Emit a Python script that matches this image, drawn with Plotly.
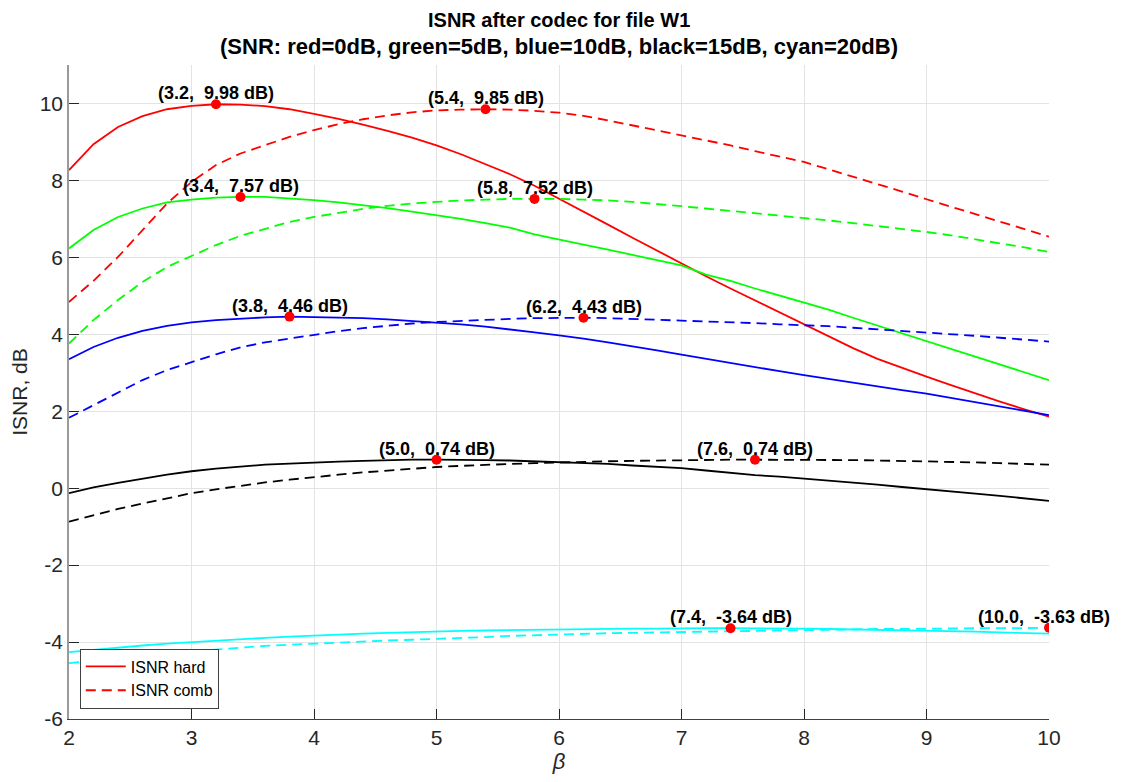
import plotly.graph_objects as go

beta = [round(2.0 + 0.2 * i, 1) for i in range(41)]

hard_0 = [8.27, 8.94, 9.39, 9.67, 9.85, 9.94, 9.98, 9.97, 9.93, 9.85, 9.73, 9.60, 9.45, 9.29, 9.11, 8.91,
          8.68, 8.43, 8.16, 7.86, 7.53, 7.19, 6.85, 6.51, 6.17, 5.84, 5.51, 5.19, 4.88, 4.58, 4.28,
          3.95, 3.64, 3.36, 3.12, 2.90, 2.68, 2.46, 2.25, 2.05, 1.86]
comb_0 = [4.84, 5.39, 6.01, 6.71, 7.40, 7.96, 8.40, 8.70, 8.92, 9.13, 9.31, 9.46, 9.59, 9.69, 9.77, 9.82,
          9.84, 9.85, 9.84, 9.81, 9.76, 9.68, 9.56, 9.43, 9.30, 9.17, 9.04, 8.91, 8.76, 8.62, 8.48,
          8.29, 8.10, 7.91, 7.71, 7.51, 7.32, 7.12, 6.93, 6.73, 6.54]
hard_5 = [6.23, 6.71, 7.05, 7.27, 7.43, 7.50, 7.55, 7.57, 7.57, 7.53, 7.49, 7.43, 7.36, 7.28, 7.19, 7.10,
          7.00, 6.89, 6.77, 6.60, 6.46, 6.33, 6.20, 6.06, 5.93, 5.79, 5.55, 5.39, 5.19, 5.01, 4.83,
          4.64, 4.43, 4.23, 4.03, 3.83, 3.63, 3.42, 3.22, 3.01, 2.81]
comb_5 = [3.76, 4.37, 4.89, 5.36, 5.75, 6.04, 6.32, 6.56, 6.75, 6.92, 7.05, 7.16, 7.26, 7.34, 7.40, 7.44,
          7.48, 7.50, 7.52, 7.52, 7.52, 7.50, 7.48, 7.44, 7.39, 7.33, 7.27, 7.21, 7.15, 7.09, 7.03,
          6.96, 6.89, 6.82, 6.74, 6.66, 6.57, 6.47, 6.37, 6.26, 6.14]
hard_10 = [3.35, 3.67, 3.91, 4.09, 4.22, 4.31, 4.37, 4.41, 4.44, 4.46, 4.45, 4.44, 4.42, 4.39, 4.35, 4.31,
           4.26, 4.20, 4.13, 4.05, 3.97, 3.89, 3.79, 3.69, 3.58, 3.47, 3.36, 3.25, 3.14, 3.04, 2.94,
           2.84, 2.74, 2.64, 2.55, 2.46, 2.35, 2.24, 2.12, 2.01, 1.90]
comb_10 = [1.83, 2.16, 2.50, 2.81, 3.07, 3.28, 3.48, 3.66, 3.79, 3.89, 3.99, 4.08, 4.16, 4.22, 4.28, 4.32,
           4.35, 4.38, 4.40, 4.42, 4.43, 4.43, 4.42, 4.40, 4.38, 4.36, 4.34, 4.31, 4.29, 4.26, 4.24,
           4.21, 4.17, 4.13, 4.09, 4.05, 4.01, 3.96, 3.91, 3.86, 3.81]
hard_15 = [-0.13, 0.02, 0.14, 0.25, 0.35, 0.44, 0.51, 0.56, 0.61, 0.64, 0.67, 0.69, 0.71, 0.73, 0.74, 0.74,
           0.74, 0.73, 0.72, 0.70, 0.68, 0.66, 0.63, 0.59, 0.56, 0.52, 0.46, 0.40, 0.34, 0.30, 0.25,
           0.19, 0.14, 0.09, 0.03, -0.02, -0.08, -0.14, -0.20, -0.26, -0.33]
comb_15 = [-0.87, -0.70, -0.54, -0.40, -0.26, -0.13, -0.03, 0.06, 0.15, 0.22, 0.29, 0.35, 0.41, 0.46, 0.51, 0.55,
           0.58, 0.61, 0.63, 0.65, 0.67, 0.69, 0.70, 0.71, 0.72, 0.73, 0.73, 0.74, 0.74, 0.74, 0.74,
           0.73, 0.73, 0.72, 0.71, 0.70, 0.68, 0.67, 0.65, 0.63, 0.61]
hard_20 = [-4.26, -4.20, -4.14, -4.09, -4.04, -4.00, -3.96, -3.92, -3.89, -3.86, -3.83, -3.80, -3.78, -3.76, -3.74, -3.72,
           -3.71, -3.70, -3.69, -3.68, -3.67, -3.66, -3.66, -3.65, -3.65, -3.64, -3.64, -3.64, -3.64, -3.65, -3.65,
           -3.66, -3.67, -3.68, -3.69, -3.70, -3.72, -3.73, -3.75, -3.76, -3.78]
comb_20 = [-4.55, -4.48, -4.41, -4.35, -4.29, -4.24, -4.19, -4.14, -4.10, -4.07, -4.04, -4.01, -3.98, -3.96, -3.94, -3.92,
           -3.89, -3.87, -3.84, -3.82, -3.80, -3.79, -3.77, -3.76, -3.75, -3.74, -3.73, -3.72, -3.71, -3.69, -3.68,
           -3.68, -3.67, -3.66, -3.66, -3.65, -3.65, -3.64, -3.64, -3.63, -3.63]

colors = ["#ff0000", "#00ff00", "#0000ff", "#000000", "#00ffff"]
hard_series = [hard_0, hard_5, hard_10, hard_15, hard_20]
comb_series = [comb_0, comb_5, comb_10, comb_15, comb_20]

peak_x = [3.2, 5.4, 3.4, 5.8, 3.8, 6.2, 5.0, 7.6, 7.4, 10.0]
peak_y = [9.98, 9.85, 7.57, 7.52, 4.46, 4.43, 0.74, 0.74, -3.64, -3.63]

x_ticks = [2, 3, 4, 5, 6, 7, 8, 9, 10]
y_ticks = [-6, -4, -2, 0, 2, 4, 6, 8, 10]

FONT = "Arial, Liberation Sans, Helvetica, sans-serif"
DASH = "10px,6px"

fig = go.Figure()
for col, h, c in zip(colors, hard_series, comb_series):
    fig.add_trace(go.Scatter(x=beta, y=h, mode="lines", line=dict(color=col, width=1.8),
                             showlegend=False, hoverinfo="skip"))
    fig.add_trace(go.Scatter(x=beta, y=c, mode="lines", line=dict(color=col, width=1.8, dash=DASH),
                             showlegend=False, hoverinfo="skip"))

fig.add_trace(go.Scatter(x=peak_x, y=peak_y, mode="markers",
                         marker=dict(color="#ff0000", size=10, line=dict(width=0)),
                         showlegend=False, hoverinfo="skip"))

# legend entries
fig.add_trace(go.Scatter(x=[None], y=[None], mode="lines", name="ISNR hard",
                         line=dict(color="#ff0000", width=1.8)))
fig.add_trace(go.Scatter(x=[None], y=[None], mode="lines", name="ISNR comb",
                         line=dict(color="#ff0000", width=1.8, dash=DASH)))

annotations = []
for px_, py_ in zip(peak_x, peak_y):
    annotations.append(dict(
        x=px_, y=py_, xref="x", yref="y",
        text=f"({px_:.1f},\u00a0 {py_:.2f} dB)",
        showarrow=False, yanchor="middle", xanchor="center", yshift=11,
        xshift=-5 if px_ >= 10 else 0,
        font=dict(family=FONT, size=18, color="#000000", weight="bold"),
    ))

annotations.append(dict(x=0.5, y=1 + 45 / 654, xref="paper", yref="paper",
                        text="<b>ISNR after codec for file W1</b>", showarrow=False,
                        xanchor="center", yanchor="middle",
                        font=dict(family=FONT, size=20, color="#000000")))
annotations.append(dict(x=0.5, y=1 + 18 / 654, xref="paper", yref="paper",
                        text="<b>(SNR: red=0dB, green=5dB, blue=10dB, black=15dB, cyan=20dB)</b>",
                        showarrow=False, xanchor="center", yanchor="middle",
                        font=dict(family=FONT, size=22, color="#000000")))

# page body has an 8px margin: shrink the figure so the plot lands where the reference has it
fig.update_layout(
    width=1105, height=766,
    margin=dict(l=61, r=64, t=57, b=55, autoexpand=False),
    paper_bgcolor="white", plot_bgcolor="white",
    font=dict(family=FONT, color="#262626"),
    annotations=annotations,
    legend=dict(x=0.011, y=0.016, xanchor="left", yanchor="bottom",
                bgcolor="white", bordercolor="#404040", borderwidth=1,
                font=dict(family=FONT, size=16, color="#000000"),
                tracegroupgap=0, itemwidth=40),
    xaxis=dict(range=[2, 10], tickvals=x_ticks, ticktext=[str(v) for v in x_ticks],
               showgrid=True, gridcolor="#e3e3e3", gridwidth=1, automargin=False,
               showline=True, linecolor="#404040", linewidth=1,
               ticks="inside", ticklen=10, tickcolor="#262626", tickwidth=1,
               tickfont=dict(size=21, color="#262626"), zeroline=False,
               title=dict(text="<i>β</i>", font=dict(size=22, color="#262626"), standoff=10)),
    yaxis=dict(range=[-6, 11], tickvals=y_ticks, ticktext=[str(v) for v in y_ticks],
               showgrid=True, gridcolor="#e3e3e3", gridwidth=1, automargin=False,
               showline=True, linecolor="#9a9a9a", linewidth=1.5,
               ticks="inside", ticklen=10, tickcolor="#262626", tickwidth=1,
               tickfont=dict(size=21, color="#262626"), zeroline=False,
               title=dict(text="ISNR, dB", font=dict(size=21, color="#262626"), standoff=10)),
)

fig.write_html("out.html")
